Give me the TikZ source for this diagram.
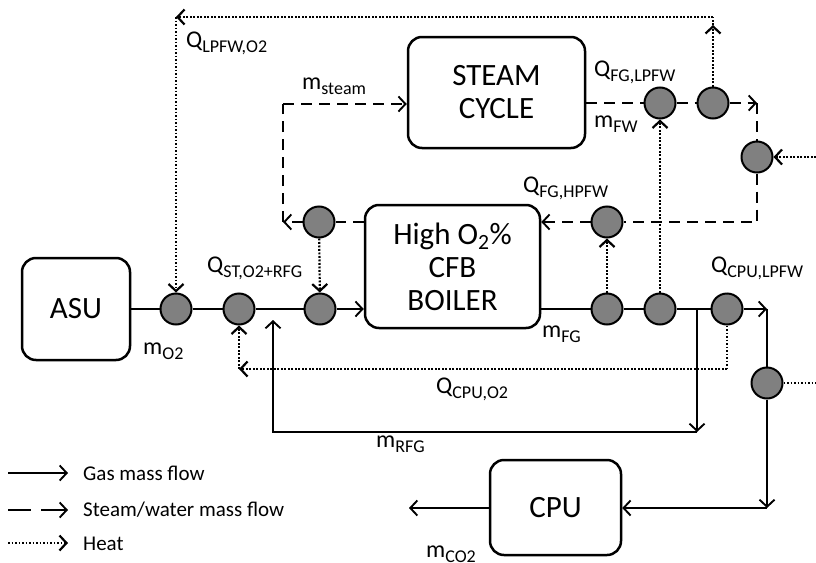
\documentclass[tikz,border=0pt]{standalone}
\usepackage{fontspec}
\setmainfont{Carlito}
\usetikzlibrary{arrows.meta, positioning, calc}

\newcommand{\qsub}[2]{#1\raisebox{-5.5pt}{\fontsize{18}{18}\selectfont #2}}

\begin{document}
\begin{tikzpicture}[x=1pt, y=-1pt,
    >={Straight Barb[length=7pt,width=15pt]},
    unit/.style={rounded corners=14pt, draw=black, line width=2.5pt, align=center, inner sep=0pt, font=\fontsize{31}{33}\selectfont},
    junction/.style={circle, draw=black, fill=gray, line width=2pt, minimum size=31pt, inner sep=0pt},
    gasflow/.style={line width=1.9pt},
    steamflow/.style={line width=1.9pt, dash pattern=on 11pt off 7pt},
    heatflow/.style={line width=2.2pt, dash pattern=on 1.8pt off 1.7pt},
    label/.style={anchor=base west, inner sep=0pt, font=\fontsize{24}{24}\selectfont},
    legendtext/.style={anchor=base west, inner sep=0pt, font=\fontsize{21}{21}\selectfont}
]
\useasboundingbox (0,0) rectangle (816,562);

% ===== UNITS =====
\node[unit, minimum width=108pt, minimum height=102pt] (asu) at (76,309) {ASU};
\node[unit, minimum width=175pt, minimum height=123pt] (boiler) at (452.5,266.5) {High O\textsubscript{2}\%\\CFB\\BOILER};
\node[unit, minimum width=177pt, minimum height=111pt] (steam) at (496.5,92.5) {STEAM\\CYCLE};
\node[unit, minimum width=131pt, minimum height=95pt] (cpu) at (555.5,507.5) {CPU};

% Heat exchange points
\node[junction] (c1) at (176,309) {};
\node[junction] (c2) at (239,309) {};
\node[junction] (c3) at (320,309) {};
\node[junction] (c4) at (319,222) {};
\node[junction] (c5) at (607,309) {};
\node[junction] (c6) at (660,309) {};
\node[junction] (c7) at (727,309) {};
\node[junction] (c8) at (607,222) {};
\node[junction] (c9) at (767,383) {};
\node[junction] (c10) at (660,103) {};
\node[junction] (c11) at (713,103) {};
\node[junction] (c12) at (757,157) {};

% Corners
\coordinate (split) at (697,309);
\coordinate (rfgR) at (697,432);
\coordinate (rfgL) at (273,432);
\coordinate (rfgT) at (273,320);
\coordinate (cpuR) at (767,309);
\coordinate (cpuB) at (767,508);
\coordinate (co2) at (409,508);
\coordinate (swR) at (757,103);
\coordinate (swB) at (757,222);
\coordinate (swL) at (283,222);
\coordinate (swT) at (283,104);
\coordinate (hR) at (713,17);
\coordinate (hRa) at (713,25);
\coordinate (hL) at (176,17);
\coordinate (qB) at (727,369);
\coordinate (qL) at (239,369);
\coordinate (inR) at (816,157);
\coordinate (outR) at (816,383);

% ===== GAS =====
\draw[gasflow] (asu) -- (c1) -- (c2) -- (c3);
\draw[gasflow,->] (c3) -- (c3 -| boiler.west);
\draw[gasflow] (boiler.east |- c5) -- (c5) -- (c6) -- (c7);
\draw[gasflow,->] (c7) -- (cpuR);
\draw[gasflow] (cpuR) -- (c9);
\draw[gasflow,->] (c9) -- (cpuB);
\draw[gasflow,->] (cpuB) -- (cpu.east |- cpuB);
\draw[gasflow,->] (cpu.west |- co2) -- (co2);
\draw[gasflow,->] (split) -- (rfgR);
\draw[gasflow,->] (rfgR) -- (rfgL) -- (rfgT);

% ===== STEAM / WATER =====
\draw[steamflow] (steam.east |- c10) -- (c10) -- (c11);
\draw[steamflow,->] (c11) -- (swR);
\draw[steamflow] (swR) -- (c12) -- (swB) -- (c8);
\draw[steamflow,->] (c8) -- (c8 -| boiler.east);
\draw[steamflow] (boiler.west |- c4) -- (c4);
\draw[steamflow,->] (c4) -- (swL);
\draw[steamflow] (swL) -- (swT);
\draw[steamflow,->] (swT) -- (swT -| steam.west);

% ===== HEAT =====
\draw[heatflow,->] (c11) -- (hRa);
\draw[heatflow] (hRa) -- (hR);
\draw[heatflow,->] (hR) -- (hL);
\draw[heatflow,->] (hL) -- (c1);
\draw[heatflow,->] (c5) -- (c8);
\draw[heatflow,->] (c6) -- (c10);
\draw[heatflow,->] (c4) -- (c3);
\draw[heatflow] (c7) -- (qB);
\draw[heatflow,->] (qB) -- (qL);
\draw[heatflow,->] (qL) -- (c2);
\draw[heatflow,->] (inR) -- (c12);
\draw[heatflow] (c9) -- (outR);

% Labels
\node[label] (qlpfw) at (186,47) {\qsub{Q}{LPFW,O2}};
\node[label] (msteam) at (302,89) {\qsub{m}{steam}};
\node[label] (qfglp) at (594,76) {\qsub{Q}{FG,LPFW}};
\node[label] (mfw) at (594,127) {\qsub{m}{FW}};
\node[label] (qfghp) at (523,192) {\qsub{Q}{FG,HPFW}};
\node[label] (qst) at (207,272) {\qsub{Q}{ST,O2+RFG}};
\node[label] (mo2) at (143,354) {\qsub{m}{O2}};
\node[label] (mfg) at (542,337) {\qsub{m}{FG}};
\node[label] (qcpulp) at (711,272) {\qsub{Q}{CPU,LPFW}};
\node[label] (qcpuo2) at (436,393) {\qsub{Q}{CPU,O2}};
\node[label] (mrfg) at (376,447) {\qsub{m}{RFG}};
\node[label] (mco2) at (426,557) {\qsub{m}{CO2}};

% ===== LEGEND =====
\coordinate (lg1a) at (8,473);
\coordinate (lg1b) at (68,473);
\coordinate (lg2a) at (8,510);
\coordinate (lg2m) at (31,510);
\coordinate (lg2b) at (68,510);
\coordinate (lg3a) at (8,543);
\coordinate (lg3b) at (68,543);
\draw[gasflow,->] (lg1a) -- (lg1b);
\draw[gasflow] (lg2a) -- (lg2m);
\draw[gasflow,->] ($(lg2m)+(10,0)$) -- (lg2b);
\draw[heatflow,->] (lg3a) -- (lg3b);
\node[legendtext] (lgas) at (83,480) {Gas mass flow};
\node[legendtext] (lsteam) at (83,516) {Steam/water mass flow};
\node[legendtext] (lheat) at (83,550) {Heat};

\end{tikzpicture}
\end{document}
